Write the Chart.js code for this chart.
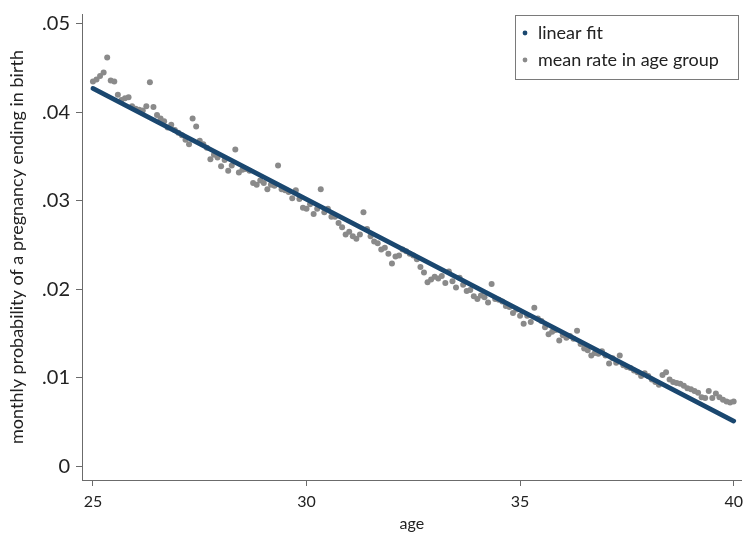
<!DOCTYPE html>
<html>
<head>
<meta charset="utf-8">
<script src="https://cdn.jsdelivr.net/npm/chart.js@4.4.1/dist/chart.umd.min.js"></script>
<style>
  html, body { margin: 0; padding: 0; background: #fff; }
  #wrap { width: 749px; height: 535px; }
</style>
</head>
<body>
<div id="wrap"><canvas id="birthChart" width="749" height="535"></canvas></div>
<script>
  // ===== Data =====
  // mean monthly rate per age group, one value per month of age from 25 to 40
  const firstAge = 25;
  const monthsPerYear = 12;
  const meanRate = [
    0.0435, 0.0437, 0.0441, 0.0445, 0.0462, 0.0436, 0.0435, 0.0420, 0.0414, 0.0416,
    0.0417, 0.0407, 0.0404, 0.0403, 0.0402, 0.0407, 0.0434, 0.0406, 0.0397, 0.0393,
    0.0390, 0.0383, 0.0386, 0.0380, 0.0377, 0.0374, 0.0369, 0.0364, 0.0393, 0.0384,
    0.0368, 0.0364, 0.0360, 0.0347, 0.0352, 0.0349, 0.0339, 0.0346, 0.0334, 0.0340,
    0.0358, 0.0332, 0.0335, 0.0336, 0.0334, 0.0320, 0.0318, 0.0323, 0.0320, 0.0313,
    0.0318, 0.0317, 0.0340, 0.0313, 0.0312, 0.0310, 0.0303, 0.0312, 0.0302, 0.0292,
    0.0291, 0.0296, 0.0285, 0.0291, 0.0313, 0.0287, 0.0291, 0.0282, 0.0282, 0.0275,
    0.0270, 0.0262, 0.0265, 0.0260, 0.0257, 0.0262, 0.0287, 0.0268, 0.0260, 0.0254,
    0.0252, 0.0245, 0.0247, 0.0240, 0.0229, 0.0237, 0.0238, 0.0245, 0.0243, 0.0240,
    0.0238, 0.0234, 0.0225, 0.0219, 0.0208, 0.0211, 0.0214, 0.0212, 0.0215, 0.0207,
    0.0220, 0.0209, 0.0202, 0.0213, 0.0205, 0.0198, 0.0199, 0.0192, 0.0189, 0.0193,
    0.0191, 0.0185, 0.0206, 0.0189, 0.0188, 0.0186, 0.0181, 0.0180, 0.0173, 0.0177,
    0.0170, 0.0161, 0.0170, 0.0163, 0.0179, 0.0167, 0.0164, 0.0157, 0.0149, 0.0152,
    0.0154, 0.0142, 0.0148, 0.0145, 0.0147, 0.0144, 0.0153, 0.0138, 0.0133, 0.0131,
    0.0125, 0.0128, 0.0127, 0.0130, 0.0125, 0.0116, 0.0122, 0.0117, 0.0125, 0.0114,
    0.0112, 0.0111, 0.0108, 0.0106, 0.0102, 0.0105, 0.0102, 0.0098, 0.0095, 0.0092,
    0.0103, 0.0106, 0.0098, 0.0095, 0.0094, 0.0093, 0.0091, 0.0088, 0.0087, 0.0085,
    0.0083, 0.0078, 0.0077, 0.0085, 0.0077, 0.0082, 0.0078, 0.0075, 0.0073, 0.0072,
    0.0073
  ];

  // fitted line end points
  const fitAges = [25, 40];
  const fitRates = [0.0427, 0.0051];

  const xTicks = [25, 30, 35, 40];
  const yTicks = [0, 0.01, 0.02, 0.03, 0.04, 0.05];

  const navy = "#1a476f";
  const grey = "#8a8a8a";
  const axisGrey = "#6b6b6b";
  const font = "Lato, 'Open Sans', sans-serif";

  let ratePoints = meanRate.map((r, i) => ({ x: firstAge + i / monthsPerYear, y: r }));
  let fitPoints = fitAges.map((a, i) => ({ x: a, y: fitRates[i] }));

  // ===== Legend in a box (top right) =====
  const boxLegend = {
    id: "boxLegend",
    afterDraw(chart) {
      const c = chart.ctx;
      const items = chart.data.datasets;
      c.save();
      c.strokeStyle = "#7a7a7a";
      c.lineWidth = 1;
      c.strokeRect(515.5, 15.5, 223, 64);
      c.font = "18px " + font;
      c.textBaseline = "middle";
      items.forEach((ds, i) => {
        let y = 33 + i * 27;
        c.fillStyle = ds.legendColor;
        c.beginPath();
        c.arc(525, y, 2.4, 0, Math.PI * 2);
        c.fill();
        c.fillStyle = "#222";
        c.fillText(ds.label, 538, y);
      });
      c.restore();
    }
  };

  const ctx = document.getElementById("birthChart").getContext("2d");
  let birthChart = new Chart(ctx, {
    data: {
      datasets: [
        {
          type: "line",
          label: "linear fit",
          legendColor: navy,
          data: fitPoints,
          borderColor: navy,
          borderWidth: 4.8,
          borderCapStyle: "round",
          pointRadius: 0
        },
        {
          type: "scatter",
          label: "mean rate in age group",
          legendColor: grey,
          data: ratePoints,
          backgroundColor: grey,
          borderWidth: 0,
          pointRadius: 3
        }
      ]
    },
    options: {
      responsive: false,
      animation: false,
      layout: { padding: { top: 0, right: 4, left: 0, bottom: 0 } },
      plugins: {
        legend: { display: false },
        tooltip: { enabled: false }
      },
      scales: {
        x: {
          type: "linear",
          min: 24.744,
          max: 40.19,
          afterBuildTicks: s => { s.ticks = xTicks.map(v => ({ value: v })); },
          afterFit: s => { s.height = 55; },
          grid: { drawOnChartArea: false, tickLength: 6, color: axisGrey, tickColor: axisGrey },
          border: { color: axisGrey, width: 1 },
          ticks: { color: "#222", font: { family: font, size: 16 }, padding: 6, maxRotation: 0 },
          title: { display: true, text: "age", color: "#222", font: { family: font, size: 16 }, padding: { top: 0, bottom: 2 } }
        },
        y: {
          min: -0.00157,
          max: 0.05112,
          afterBuildTicks: s => { s.ticks = yTicks.map(v => ({ value: v })); },
          afterFit: s => { s.width = 82; },
          grid: { drawOnChartArea: false, tickLength: 6, color: axisGrey, tickColor: axisGrey },
          border: { color: axisGrey, width: 1 },
          ticks: {
            color: "#222",
            font: { family: font, size: 20, lineHeight: 0.8 },
            padding: 6,
            callback: v => v === 0 ? "0" : v.toFixed(2).replace(/^0/, "")
          },
          title: { display: true, text: "monthly probability of a pregnancy ending in birth", color: "#222", font: { family: font, size: 18 }, padding: { top: 6, bottom: 0 } }
        }
      }
    },
    plugins: [boxLegend]
  });
</script>
</body>
</html>
